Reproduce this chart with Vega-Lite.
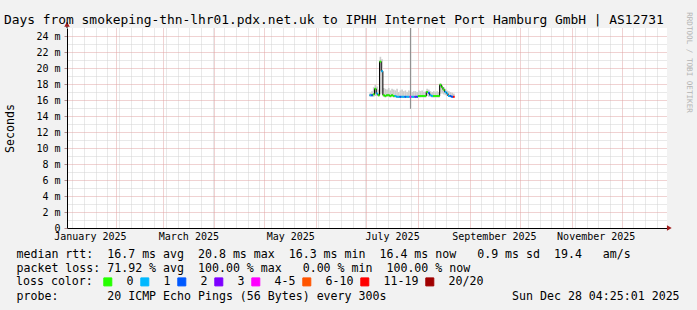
{
  "$schema": "https://vega.github.io/schema/vega-lite/v6.json",
  "width": 600,
  "height": 200,
  "autosize": {"type": "none"},
  "padding": {"left": 67, "top": 28, "right": 30, "bottom": 82},
  "background": "#f2f2f2",
  "title": {
    "text": "Days from smokeping-thn-lhr01.pdx.net.uk to IPHH Internet Port Hamburg GmbH | AS12731",
    "anchor": "start",
    "frame": "group",
    "font": "DejaVu Sans Mono",
    "fontSize": 12.9,
    "fontWeight": "normal",
    "color": "#000000",
    "dx": -63,
    "dy": 19,
    "offset": 4
  },
  "config": {
    "view": {"stroke": null, "fill": "#ffffff"},
    "font": "DejaVu Sans Mono"
  },
  "datasets": {
    "rtt": [
      {"t": "2025-07-03T00:00:00", "end": "2025-07-04T00:00:00", "med": 16.6, "loss": "1", "lo": 16.4, "hi": 16.9},
      {"t": "2025-07-04T00:00:00", "end": "2025-07-05T00:00:00", "med": 16.6, "loss": "2", "lo": 16.4, "hi": 17.1},
      {"t": "2025-07-05T00:00:00", "end": "2025-07-06T00:00:00", "med": 16.7, "loss": "0", "lo": 16.4, "hi": 17.6},
      {"t": "2025-07-06T00:00:00", "end": "2025-07-07T00:00:00", "med": 17.4, "loss": "0", "lo": 16.5, "hi": 17.9},
      {"t": "2025-07-07T00:00:00", "end": "2025-07-08T00:00:00", "med": 16.8, "loss": "1", "lo": 16.5, "hi": 17.7},
      {"t": "2025-07-08T00:00:00", "end": "2025-07-09T00:00:00", "med": 16.6, "loss": "0", "lo": 16.4, "hi": 17.3},
      {"t": "2025-07-09T00:00:00", "end": "2025-07-10T00:00:00", "med": 20.8, "loss": "0", "lo": 16.7, "hi": 21.4},
      {"t": "2025-07-10T00:00:00", "end": "2025-07-11T00:00:00", "med": 19.6, "loss": "1", "lo": 16.8, "hi": 21.1},
      {"t": "2025-07-11T00:00:00", "end": "2025-07-12T00:00:00", "med": 16.6, "loss": "0", "lo": 16.4, "hi": 17.5},
      {"t": "2025-07-12T00:00:00", "end": "2025-07-13T00:00:00", "med": 16.5, "loss": "0", "lo": 16.3, "hi": 17.4},
      {"t": "2025-07-13T00:00:00", "end": "2025-07-14T00:00:00", "med": 16.6, "loss": "0", "lo": 16.4, "hi": 17.3},
      {"t": "2025-07-14T00:00:00", "end": "2025-07-15T00:00:00", "med": 16.6, "loss": "0", "lo": 16.4, "hi": 17.5},
      {"t": "2025-07-15T00:00:00", "end": "2025-07-16T00:00:00", "med": 16.5, "loss": "0", "lo": 16.3, "hi": 17.2},
      {"t": "2025-07-16T00:00:00", "end": "2025-07-17T00:00:00", "med": 16.6, "loss": "0", "lo": 16.4, "hi": 17.4},
      {"t": "2025-07-17T00:00:00", "end": "2025-07-18T00:00:00", "med": 16.5, "loss": "0", "lo": 16.3, "hi": 17.3},
      {"t": "2025-07-18T00:00:00", "end": "2025-07-19T00:00:00", "med": 16.5, "loss": "1", "lo": 16.3, "hi": 17.2},
      {"t": "2025-07-19T00:00:00", "end": "2025-07-20T00:00:00", "med": 16.4, "loss": "1", "lo": 16.3, "hi": 17.4},
      {"t": "2025-07-20T00:00:00", "end": "2025-07-21T00:00:00", "med": 16.4, "loss": "1", "lo": 16.3, "hi": 17.0},
      {"t": "2025-07-21T00:00:00", "end": "2025-07-22T00:00:00", "med": 16.4, "loss": "2", "lo": 16.3, "hi": 17.2},
      {"t": "2025-07-22T00:00:00", "end": "2025-07-23T00:00:00", "med": 16.4, "loss": "1", "lo": 16.3, "hi": 17.3},
      {"t": "2025-07-23T00:00:00", "end": "2025-07-24T00:00:00", "med": 16.4, "loss": "1", "lo": 16.3, "hi": 17.1},
      {"t": "2025-07-24T00:00:00", "end": "2025-07-25T00:00:00", "med": 16.4, "loss": "2", "lo": 16.3, "hi": 17.2},
      {"t": "2025-07-25T00:00:00", "end": "2025-07-26T00:00:00", "med": 16.4, "loss": "1", "lo": 16.3, "hi": 17.0},
      {"t": "2025-07-26T00:00:00", "end": "2025-07-27T00:00:00", "med": 16.4, "loss": "1", "lo": 16.3, "hi": 17.2},
      {"t": "2025-07-27T00:00:00", "end": "2025-07-28T00:00:00", "med": 16.4, "loss": "4-5", "lo": 16.3, "hi": 17.1},
      {"t": "2025-07-28T00:00:00", "end": "2025-07-29T00:00:00", "med": 16.4, "loss": "1", "lo": 16.3, "hi": 17.0},
      {"t": "2025-07-29T00:00:00", "end": "2025-07-30T00:00:00", "med": 16.4, "loss": "1", "lo": 16.3, "hi": 17.1},
      {"t": "2025-07-30T00:00:00", "end": "2025-07-31T00:00:00", "med": 16.4, "loss": "3", "lo": 16.3, "hi": 17.1},
      {"t": "2025-07-31T00:00:00", "end": "2025-08-01T00:00:00", "med": 16.4, "loss": "2", "lo": 16.3, "hi": 17.0},
      {"t": "2025-08-01T00:00:00", "end": "2025-08-02T00:00:00", "med": 16.5, "loss": "0", "lo": 16.3, "hi": 17.2},
      {"t": "2025-08-02T00:00:00", "end": "2025-08-03T00:00:00", "med": 16.5, "loss": "0", "lo": 16.3, "hi": 17.1},
      {"t": "2025-08-03T00:00:00", "end": "2025-08-04T00:00:00", "med": 16.5, "loss": "0", "lo": 16.3, "hi": 17.2},
      {"t": "2025-08-04T00:00:00", "end": "2025-08-05T00:00:00", "med": 16.5, "loss": "0", "lo": 16.3, "hi": 17.0},
      {"t": "2025-08-05T00:00:00", "end": "2025-08-06T00:00:00", "med": 16.5, "loss": "0", "lo": 16.3, "hi": 17.1},
      {"t": "2025-08-06T00:00:00", "end": "2025-08-07T00:00:00", "med": 17.0, "loss": "0", "lo": 16.5, "hi": 17.4},
      {"t": "2025-08-07T00:00:00", "end": "2025-08-08T00:00:00", "med": 16.9, "loss": "2", "lo": 16.4, "hi": 17.3},
      {"t": "2025-08-08T00:00:00", "end": "2025-08-09T00:00:00", "med": 16.6, "loss": "1", "lo": 16.4, "hi": 17.1},
      {"t": "2025-08-09T00:00:00", "end": "2025-08-10T00:00:00", "med": 16.5, "loss": "1", "lo": 16.3, "hi": 17.0},
      {"t": "2025-08-10T00:00:00", "end": "2025-08-11T00:00:00", "med": 16.5, "loss": "0", "lo": 16.3, "hi": 17.1},
      {"t": "2025-08-11T00:00:00", "end": "2025-08-12T00:00:00", "med": 16.5, "loss": "0", "lo": 16.3, "hi": 17.0},
      {"t": "2025-08-12T00:00:00", "end": "2025-08-13T00:00:00", "med": 16.5, "loss": "0", "lo": 16.3, "hi": 17.1},
      {"t": "2025-08-13T00:00:00", "end": "2025-08-14T00:00:00", "med": 16.5, "loss": "0", "lo": 16.3, "hi": 17.0},
      {"t": "2025-08-14T00:00:00", "end": "2025-08-15T00:00:00", "med": 17.9, "loss": "0", "lo": 16.8, "hi": 18.1},
      {"t": "2025-08-15T00:00:00", "end": "2025-08-16T00:00:00", "med": 17.6, "loss": "0", "lo": 16.8, "hi": 17.9},
      {"t": "2025-08-16T00:00:00", "end": "2025-08-17T00:00:00", "med": 17.3, "loss": "0", "lo": 16.7, "hi": 17.6},
      {"t": "2025-08-17T00:00:00", "end": "2025-08-18T00:00:00", "med": 17.0, "loss": "1", "lo": 16.6, "hi": 17.4},
      {"t": "2025-08-18T00:00:00", "end": "2025-08-19T00:00:00", "med": 16.8, "loss": "1", "lo": 16.5, "hi": 17.2},
      {"t": "2025-08-19T00:00:00", "end": "2025-08-20T00:00:00", "med": 16.5, "loss": "1", "lo": 16.4, "hi": 17.1},
      {"t": "2025-08-20T00:00:00", "end": "2025-08-21T00:00:00", "med": 16.5, "loss": "2", "lo": 16.3, "hi": 17.0},
      {"t": "2025-08-21T00:00:00", "end": "2025-08-22T00:00:00", "med": 16.4, "loss": "2", "lo": 16.3, "hi": 16.9},
      {"t": "2025-08-22T00:00:00", "end": "2025-08-23T00:00:00", "med": 16.4, "loss": "11-19", "lo": 16.3, "hi": 16.8}
    ],
    "spike": [
      {"t": "2025-07-27T12:00:00", "lo": 14.9, "hi": 25}
    ]
  },
  "layer": [
    {
      "data": {"name": "rtt"},
      "mark": {"type": "rect", "color": "#cccccc"},
      "encoding": {
        "x": {
          "field": "t",
          "type": "temporal",
          "scale": {
            "domain": [
              {"year": 2025, "month": 1, "date": 2, "hours": 19},
              {"year": 2025, "month": 12, "date": 28, "hours": 4, "minutes": 25}
            ],
            "nice": false
          },
          "axis": {
            "tickCount": 1000,
            "values": [
              {"year": 2025, "month": 1, "date": 6}, {"year": 2025, "month": 1, "date": 13}, {"year": 2025, "month": 1, "date": 20}, {"year": 2025, "month": 1, "date": 27},
              {"year": 2025, "month": 2, "date": 1}, {"year": 2025, "month": 2, "date": 3}, {"year": 2025, "month": 2, "date": 10}, {"year": 2025, "month": 2, "date": 17}, {"year": 2025, "month": 2, "date": 24},
              {"year": 2025, "month": 3, "date": 1}, {"year": 2025, "month": 3, "date": 3}, {"year": 2025, "month": 3, "date": 10}, {"year": 2025, "month": 3, "date": 17}, {"year": 2025, "month": 3, "date": 24}, {"year": 2025, "month": 3, "date": 31},
              {"year": 2025, "month": 4, "date": 1}, {"year": 2025, "month": 4, "date": 7}, {"year": 2025, "month": 4, "date": 14}, {"year": 2025, "month": 4, "date": 21}, {"year": 2025, "month": 4, "date": 28},
              {"year": 2025, "month": 5, "date": 1}, {"year": 2025, "month": 5, "date": 5}, {"year": 2025, "month": 5, "date": 12}, {"year": 2025, "month": 5, "date": 19}, {"year": 2025, "month": 5, "date": 26},
              {"year": 2025, "month": 6, "date": 1}, {"year": 2025, "month": 6, "date": 2}, {"year": 2025, "month": 6, "date": 9}, {"year": 2025, "month": 6, "date": 16}, {"year": 2025, "month": 6, "date": 23}, {"year": 2025, "month": 6, "date": 30},
              {"year": 2025, "month": 7, "date": 1}, {"year": 2025, "month": 7, "date": 7}, {"year": 2025, "month": 7, "date": 14}, {"year": 2025, "month": 7, "date": 21}, {"year": 2025, "month": 7, "date": 28},
              {"year": 2025, "month": 8, "date": 1}, {"year": 2025, "month": 8, "date": 4}, {"year": 2025, "month": 8, "date": 11}, {"year": 2025, "month": 8, "date": 18}, {"year": 2025, "month": 8, "date": 25},
              {"year": 2025, "month": 9, "date": 1}, {"year": 2025, "month": 9, "date": 8}, {"year": 2025, "month": 9, "date": 15}, {"year": 2025, "month": 9, "date": 22}, {"year": 2025, "month": 9, "date": 29},
              {"year": 2025, "month": 10, "date": 1}, {"year": 2025, "month": 10, "date": 6}, {"year": 2025, "month": 10, "date": 13}, {"year": 2025, "month": 10, "date": 20}, {"year": 2025, "month": 10, "date": 27},
              {"year": 2025, "month": 11, "date": 1}, {"year": 2025, "month": 11, "date": 3}, {"year": 2025, "month": 11, "date": 10}, {"year": 2025, "month": 11, "date": 17}, {"year": 2025, "month": 11, "date": 24},
              {"year": 2025, "month": 12, "date": 1}, {"year": 2025, "month": 12, "date": 8}, {"year": 2025, "month": 12, "date": 15}, {"year": 2025, "month": 12, "date": 22},
              {"year": 2025, "month": 1, "date": 16, "hours": 12}, {"year": 2025, "month": 3, "date": 16, "hours": 12}, {"year": 2025, "month": 5, "date": 16, "hours": 12},
              {"year": 2025, "month": 7, "date": 16, "hours": 12}, {"year": 2025, "month": 9, "date": 15, "hours": 12}, {"year": 2025, "month": 11, "date": 15, "hours": 12}
            ],
            "title": [
              "median rtt:\u00a0\u00a016.7 ms avg\u00a0\u00a020.8 ms max\u00a0\u00a016.3 ms min\u00a0\u00a016.4 ms now\u00a0\u00a0\u00a00.9 ms sd\u00a0\u00a019.4\u00a0\u00a0\u00a0am/s",
              "packet loss: 71.92 % avg\u00a0\u00a0100.00 % max\u00a0\u00a0\u00a00.00 % min\u00a0\u00a0100.00 % now",
              "\u200b",
              "probe:\u00a0\u00a0\u00a0\u00a0\u00a0\u00a0\u00a020 ICMP Echo Pings (56 Bytes) every 300s\u00a0\u00a0\u00a0\u00a0\u00a0\u00a0\u00a0\u00a0\u00a0\u00a0\u00a0\u00a0\u00a0\u00a0\u00a0\u00a0\u00a0\u00a0Sun Dec 28 04:25:01 2025"
            ],
            "titleFont": "DejaVu Sans Mono",
            "titleFontSize": 11.6,
            "titleFontWeight": "normal",
            "titleColor": "#000000",
            "titleAlign": "left",
            "titleAnchor": "start",
            "titleBaseline": "top",
            "titleX": -51,
            "titleY": 20,
            "titleLineHeight": 14,
            "labelExpr": "hours(datum.value) == 12 ? timeFormat(datum.value, '%B %Y') : ''",
            "labelFont": "DejaVu Sans Mono",
            "labelFontSize": 10,
            "labelColor": "#000000",
            "labelPadding": 3,
            "labelOverlap": false,
            "labelFlush": false,
            "labelAngle": 0,
            "ticks": false,
            "domainColor": "#000000",
            "domainWidth": 1,
            "grid": true,
            "gridColor": {"condition": {"test": "date(datum.value) == 1", "value": "#e0a4a4"}, "value": "#d2d2d2"},
            "gridOpacity": {"condition": {"test": "hours(datum.value) == 12", "value": 0}, "value": 1},
            "gridDash": [1, 1]
          }
        },
        "x2": {"field": "end"},
        "y": {
          "field": "lo",
          "type": "quantitative",
          "scale": {"domain": [0, 25], "nice": false},
          "axis": {
            "tickCount": 1000,
            "values": [0, 1, 2, 3, 4, 5, 6, 7, 8, 9, 10, 11, 12, 13, 14, 15, 16, 17, 18, 19, 20, 21, 22, 23, 24],
            "title": "Seconds",
            "titleFont": "DejaVu Sans Mono",
            "titleFontSize": 11.6,
            "titleFontWeight": "normal",
            "titleColor": "#000000",
            "titleAngle": 270,
            "titleAlign": "center",
            "titleBaseline": "middle",
            "titleX": -57,
            "titleY": 100,
            "labelExpr": "datum.value % 2 ? '' : (datum.value == 0 ? '0\u00a0\u00a0' : datum.value + ' m')",
            "labelFont": "DejaVu Sans Mono",
            "labelFontSize": 10,
            "labelColor": "#000000",
            "labelPadding": 4,
            "labelOverlap": false,
            "labelFlush": false,
            "tickSize": 3,
            "tickColor": "#b08c8c",
            "tickOpacity": {"condition": {"test": "datum.value % 2", "value": 0}, "value": 1},
            "domainColor": "#000000",
            "grid": true,
            "gridColor": {"condition": {"test": "datum.value % 2 == 0", "value": "#e0a4a4"}, "value": "#d2d2d2"},
            "gridOpacity": {"condition": {"test": "datum.value == 0", "value": 0}, "value": 1},
            "gridDash": [1, 1]
          }
        },
        "y2": {"field": "hi"}
      }
    },
    {
      "data": {"name": "spike"},
      "mark": {"type": "rule", "color": "#8a8a8a", "strokeWidth": 1},
      "encoding": {
        "x": {"field": "t", "type": "temporal"},
        "y": {"field": "lo", "type": "quantitative", "axis": null},
        "y2": {"field": "hi"}
      }
    },
    {
      "data": {"name": "rtt"},
      "mark": {"type": "line", "color": "#000000", "strokeWidth": 1, "interpolate": "step-after"},
      "encoding": {
        "x": {"field": "t", "type": "temporal"},
        "y": {"field": "med", "type": "quantitative", "axis": null}
      }
    },
    {
      "data": {"name": "rtt"},
      "mark": {"type": "rule", "strokeWidth": 2, "strokeCap": "butt"},
      "encoding": {
        "x": {"field": "t", "type": "temporal"},
        "x2": {"field": "end"},
        "y": {"field": "med", "type": "quantitative", "axis": null},
        "color": {
          "field": "loss",
          "type": "nominal",
          "scale": {
            "domain": ["0", "1", "2", "3", "4-5", "6-10", "11-19", "20/20"],
            "range": ["#26ff00", "#00b8ff", "#0059ff", "#7e00ff", "#ff00ff", "#ff5500", "#ff0000", "#a00000"]
          },
          "legend": {
            "orient": "none",
            "legendX": -51,
            "legendY": 248,
            "direction": "horizontal",
            "columns": 8,
            "title": "loss color:",
            "titleOrient": "left",
            "titleFont": "DejaVu Sans Mono",
            "titleFontSize": 11.6,
            "titleFontWeight": "normal",
            "titleColor": "#000000",
            "titlePadding": 9,
            "labelFont": "DejaVu Sans Mono",
            "labelFontSize": 11.6,
            "labelColor": "#000000",
            "labelOffset": 13,
            "columnPadding": 4,
            "padding": 0,
            "symbolType": "square",
            "symbolSize": 64,
            "symbolStrokeWidth": 1,
            "encode": {
              "symbols": {
                "update": {
                  "fill": {"scale": "color", "field": "value"},
                  "stroke": {"value": "#000000"},
                  "strokeWidth": {"value": 1},
                  "fillOpacity": {"value": 1},
                  "opacity": {"value": 1}
                }
              }
            }
          }
        }
      }
    },
    {
      "data": {"values": [{"t": "2025-01-02T19:00:00", "v": 25.7}]},
      "mark": {"type": "rule", "color": "#000000", "strokeWidth": 1},
      "encoding": {
        "x": {"field": "t", "type": "temporal"},
        "y": {"field": "v", "type": "quantitative", "axis": null},
        "y2": {"datum": 25}
      }
    },
    {
      "data": {"values": [{"t": "2025-01-02T19:00:00", "v": 25.45}]},
      "mark": {"type": "point", "shape": "triangle-up", "size": 30, "filled": true, "color": "#a01c1c", "opacity": 1},
      "encoding": {
        "x": {"field": "t", "type": "temporal"},
        "y": {
          "field": "v",
          "type": "quantitative",
          "axis": {
            "orient": "right",
            "title": "RRDTOOL / TOBI OETIKER",
            "labels": false,
            "ticks": false,
            "domain": false,
            "grid": false,
            "titleAngle": 90,
            "titleFont": "DejaVu Sans Mono",
            "titleFontSize": 7.6,
            "titleFontWeight": "normal",
            "titleColor": "#b4b4b4",
            "titleAlign": "center",
            "titleBaseline": "middle",
            "titleX": 21,
            "titleY": 34
          }
        }
      }
    },
    {
      "data": {"values": [{"t": "2025-12-29T14:00:00", "v": 0}]},
      "mark": {"type": "point", "shape": "triangle-right", "size": 30, "filled": true, "color": "#a01c1c", "opacity": 1},
      "encoding": {
        "x": {"field": "t", "type": "temporal"},
        "y": {"field": "v", "type": "quantitative", "axis": null}
      }
    }
  ],
  "resolve": {"axis": {"y": "independent"}}
}
